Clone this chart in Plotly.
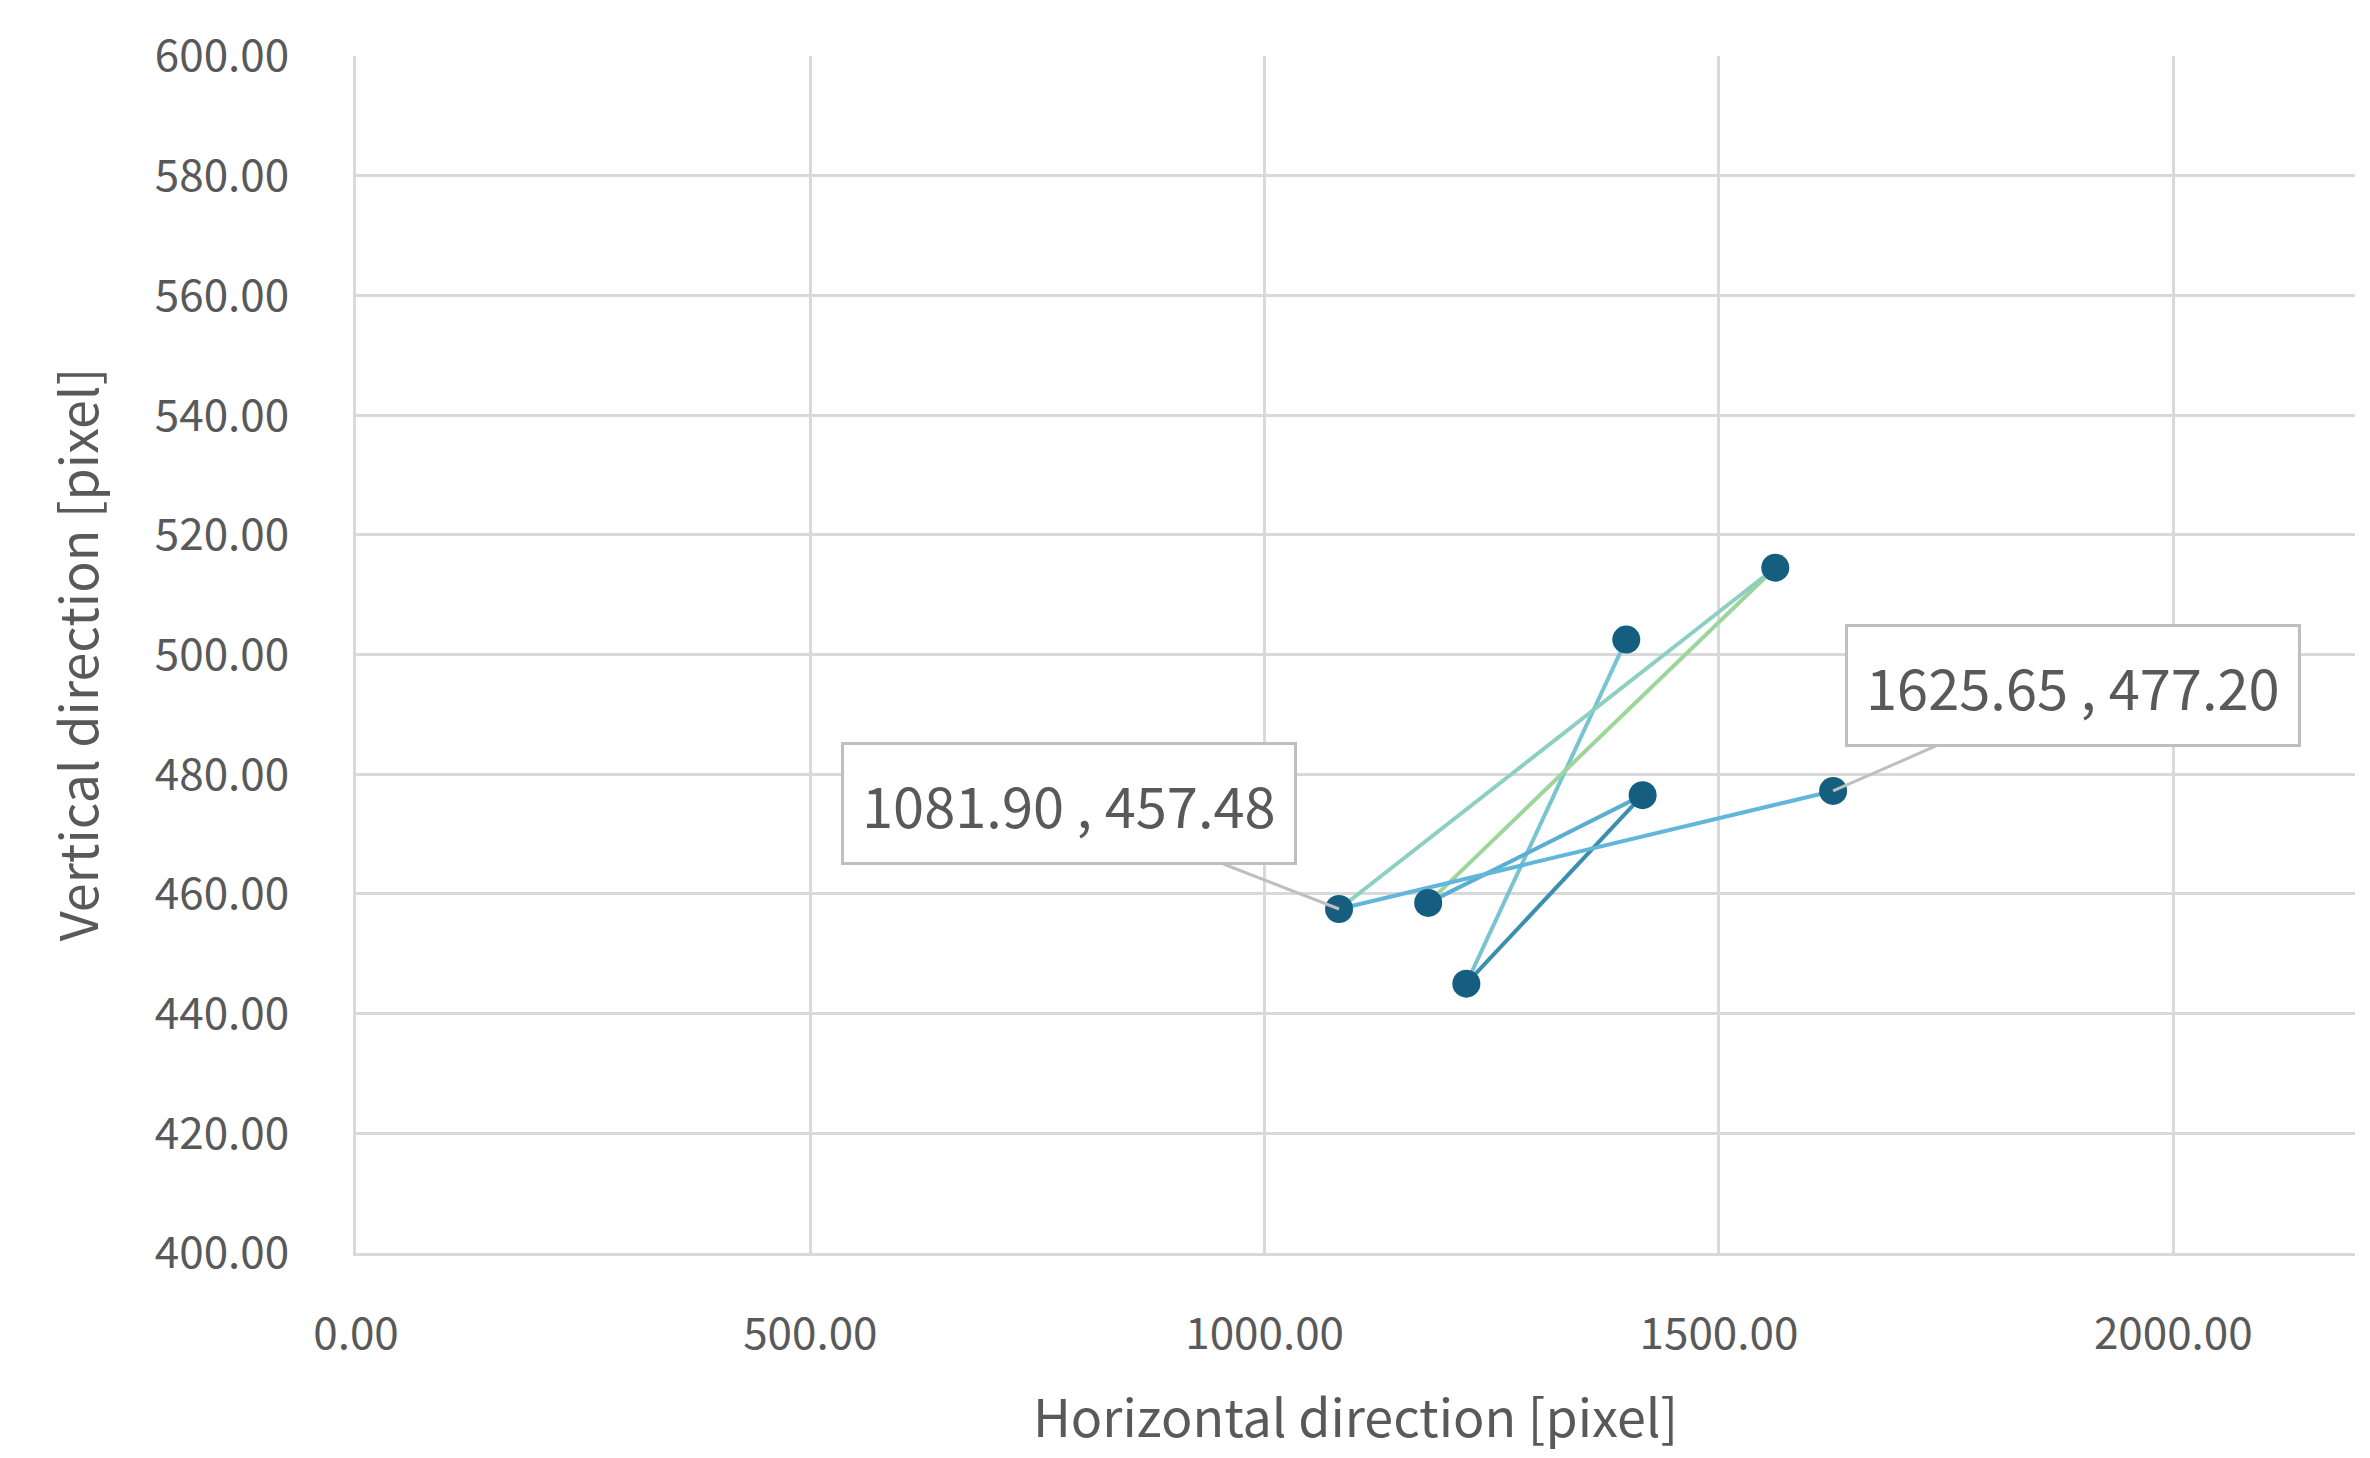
import plotly.graph_objects as go

# path order of points
xs = [1398.0, 1222.0, 1416.0, 1180.0, 1562.0, 1081.90, 1625.65]
ys = [502.5, 445.0, 476.5, 458.5, 514.5, 457.48, 477.20]
seg_colors = ["#78c4d0", "#3a8eae", "#5aaed2", "#9dd69a", "#8dcfc2", "#62b6dc"]

fig = go.Figure()
for i in range(len(xs) - 1):
    fig.add_trace(go.Scatter(x=xs[i:i+2], y=ys[i:i+2], mode="lines",
                             line=dict(color=seg_colors[i], width=4), showlegend=False,
                             hoverinfo="skip"))
fig.add_trace(go.Scatter(x=xs, y=ys, mode="markers",
                         marker=dict(color="#165e80", size=28), showlegend=False))

font = "Noto Sans CJK JP"
for (x, y, ax, ay) in [(1081.90, 457.48, -270, -105), (1625.65, 477.20, 240, -105)]:
    fig.add_annotation(x=x, y=y, text=f"{x:.2f} , {y:.2f}", showarrow=True,
                       ax=ax, ay=ay, arrowhead=0, arrowwidth=3, arrowcolor="#bfbfbf",
                       bordercolor="#bfbfbf", borderwidth=3, borderpad=18,
                       bgcolor="white", font=dict(size=56, color="#595959", family=font))

axis_common = dict(showgrid=True, gridcolor="#d9d9d9", gridwidth=3, zeroline=False,
                   tickformat=".2f", tickfont=dict(size=44, color="#595959", family=font),
                   showline=True, linecolor="#d9d9d9", linewidth=3, ticks="")
fig.update_xaxes(range=[0, 2200], dtick=500, tick0=0, ticklabelstandoff=40, **axis_common,
                 title=dict(text="Horizontal direction [pixel]", standoff=40,
                            font=dict(size=52, color="#595959", family=font)))
fig.update_yaxes(range=[400, 600], dtick=20, ticklabelstandoff=55, **axis_common,
                 title=dict(text="Vertical direction [pixel]", standoff=40,
                            font=dict(size=52, color="#595959", family=font)))
fig.update_layout(width=2370, height=1458, plot_bgcolor="white", paper_bgcolor="white",
                  margin=dict(l=348, r=23, t=45, b=213))
fig.write_html("out.html")
